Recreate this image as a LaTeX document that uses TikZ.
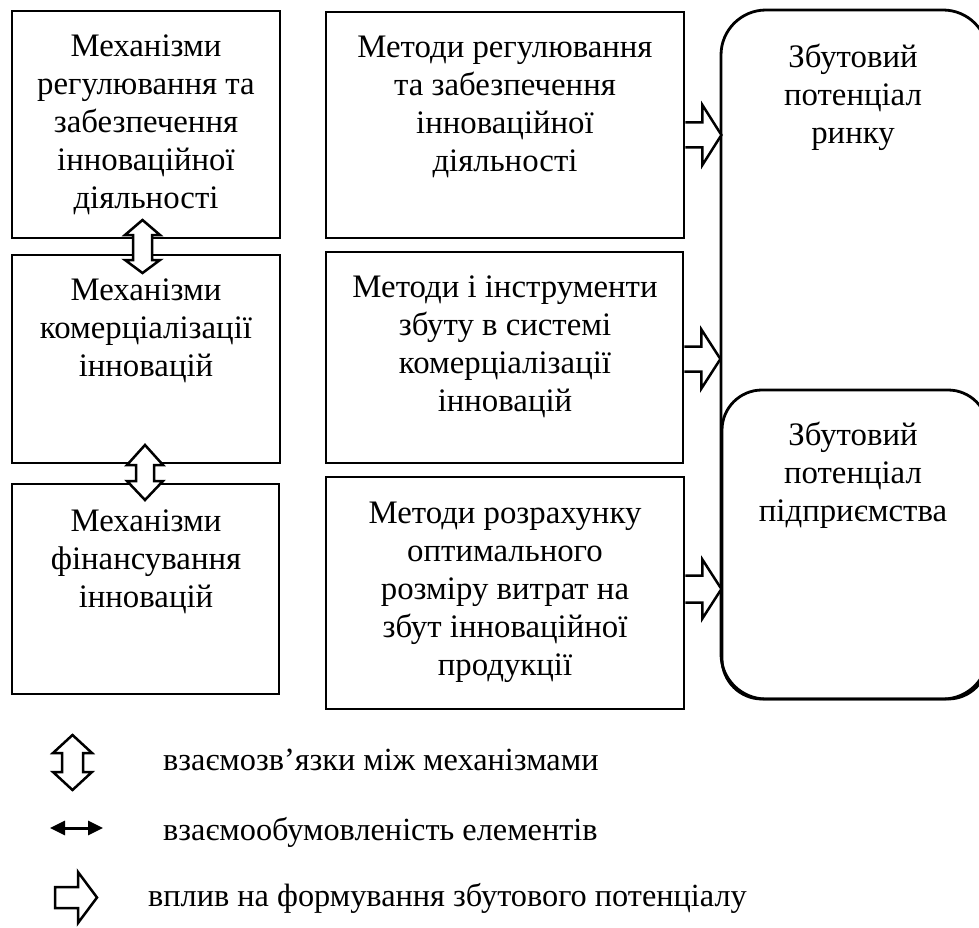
\documentclass[tikz,border=0pt]{standalone}
\usepackage{fontspec}
\setmainfont{Liberation Serif}
\usetikzlibrary{calc,arrows.meta}
\begin{document}
\begin{tikzpicture}[x=1pt,y=-1pt,
  box/.style={draw,line width=2.8pt,rectangle,inner sep=0pt},
  txt/.style={anchor=north,inner sep=0pt,align=center,font=\fontsize{32.8}{38}\selectfont},
  legtxt/.style={anchor=base west,inner sep=0pt,font=\fontsize{32.3}{37.5}\selectfont},
  blockarrow/.style={draw,fill=white,line width=2.5pt,line join=miter},
  tiparrow/.style={line width=3pt,{Triangle[length=15pt,width=14pt]}-{Triangle[length=15pt,width=14pt]}},
]
\useasboundingbox (0,0) rectangle (979,928);

% mechanisms (left column)
\node[box,minimum width=268pt,minimum height=227pt] (l1) at (146,124.5) {};
\node[box,minimum width=268pt,minimum height=208pt] (l2) at (146,359) {};
\node[box,minimum width=267pt,minimum height=210pt] (l3) at (145.5,589) {};
\node[txt] (l1t) at (146,30.1) {\strut Механізми\\регулювання та\\забезпечення\\інноваційної\\діяльності};
\node[txt] (l2t) at (146,273.4) {\strut Механізми\\комерціалізації\\інновацій};
\node[txt] (l3t) at (146,504.4) {\strut Механізми\\фінансування\\інновацій};

% methods (middle column)
\node[box,minimum width=358pt,minimum height=226pt] (m1) at (505,125) {};
\node[box,minimum width=357pt,minimum height=211pt] (m2) at (504.5,357.5) {};
\node[box,minimum width=358pt,minimum height=232pt] (m3) at (505,593) {};
\node[txt] (m1t) at (505,30.4) {\strut Методи регулювання\\та забезпечення\\інноваційної\\діяльності};
\node[txt] (m2t) at (505,270.4) {\strut Методи і інструменти\\збуту в системі\\комерціалізації\\інновацій};
\node[txt] (m3t) at (505,496.4) {\strut Методи розрахунку\\оптимального\\розміру витрат на\\збут інноваційної\\продукції};

% sales potential (right column)
\node[box,rounded corners=45pt,minimum width=267pt,minimum height=689pt] (r1) at (854.5,354.5) {};
\node[box,rounded corners=40pt,minimum width=266pt,minimum height=309pt] (r2) at (855,544.5) {};
\node[txt] (r1t) at (853,40.4) {\strut Збутовий\\потенціал\\ринку};
\node[txt] (r2t) at (853,418.4) {\strut Збутовий\\потенціал\\підприємства};

% links between mechanisms
\coordinate (v1) at ($(l1.south)!0.5!(l2.north)+(-3.5,-26.5)$);
\coordinate (v2) at ($(l2.south)!0.5!(l3.north)+(-0.75,-28.5)$);
\draw[blockarrow] (v1) -- ++(17.5,15) -- ++(-8,0) -- ++(0,25) -- ++(8,0) -- ++(-17.5,13)
  -- ++(-17.5,-13) -- ++(8,0) -- ++(0,-25) -- ++(-8,0) -- cycle;
\draw[blockarrow] (v2) -- ++(18,20) -- ++(-9,0) -- ++(0,16) -- ++(9,0) -- ++(-18,19)
  -- ++(-18,-19) -- ++(9,0) -- ++(0,-16) -- ++(-9,0) -- cycle;

% influence of methods on the sales potential
\draw[blockarrow] (m1.east |- 0,122.5) -- ++(17,0) -- ++(0,-17.5) -- ++(19,30) -- ++(-19,30) -- ++(0,-17.5) -- ++(-17,0);
\draw[blockarrow] (m2.east |- 0,346.5) -- ++(17,0) -- ++(0,-17) -- ++(19,29.5) -- ++(-19,29.5) -- ++(0,-17) -- ++(-17,0);
\draw[blockarrow] (m3.east |- 0,575.5) -- ++(17,0) -- ++(0,-16) -- ++(19,29.5) -- ++(-19,29.5) -- ++(0,-16) -- ++(-17,0);

% legend
\coordinate (lg1) at (72.5,735);
\draw[blockarrow] (lg1) -- ++(19.5,18) -- ++(-9,0) -- ++(0,19) -- ++(9,0) -- ++(-19.5,18)
  -- ++(-19.5,-18) -- ++(9,0) -- ++(0,-19) -- ++(-9,0) -- cycle;
\node[legtxt] (lg1t) at (163,770) {взаємозв’язки між механізмами};

\coordinate (lg2a) at (50,828);
\coordinate (lg2b) at (103,828);
\draw[tiparrow] (lg2a) -- (lg2b);
\node[legtxt] (lg2t) at (163,840) {взаємообумовленість елементів};

\coordinate (lg3) at (55,887);
\draw[blockarrow] (lg3) -- ++(23,0) -- ++(0,-15) -- ++(19,25.5) -- ++(-19,25.5) -- ++(0,-15) -- ++(-23,0) -- cycle;
\node[legtxt] (lg3t) at (148,906) {вплив на формування збутового потенціалу};
\end{tikzpicture}
\end{document}
